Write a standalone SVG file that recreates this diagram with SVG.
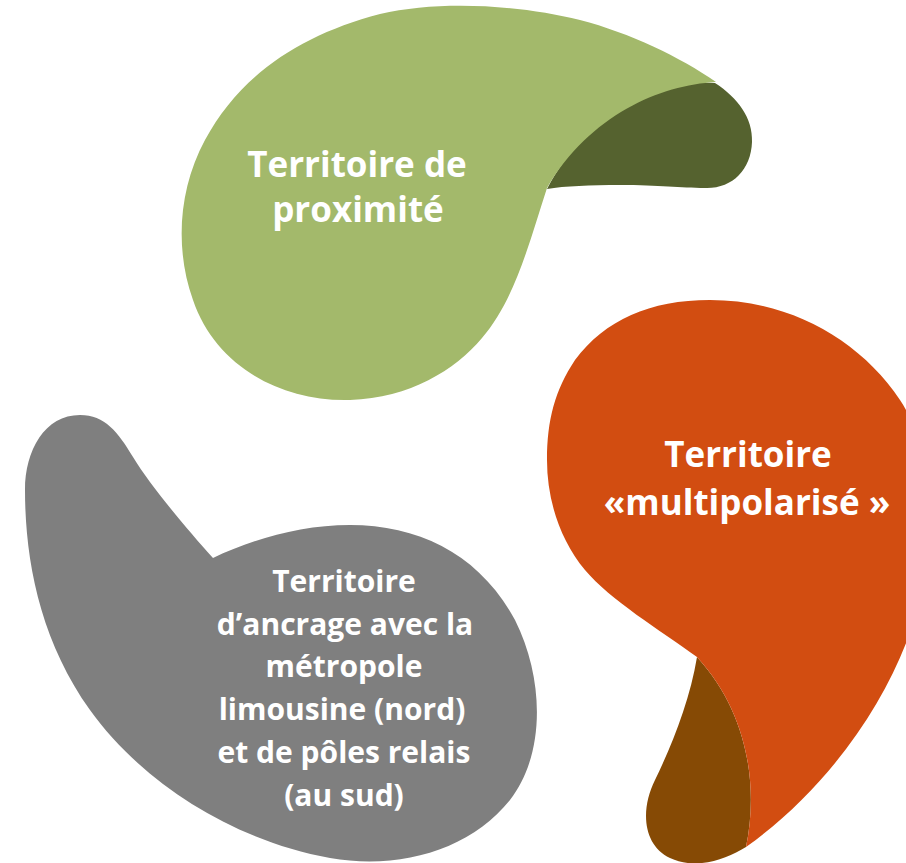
<svg xmlns="http://www.w3.org/2000/svg" width="906" height="863" viewBox="0 0 906 863">
<style>
.lbl{font-family:"Open Sans","Liberation Sans",sans-serif;font-weight:bold;fill:#FFFFFF;text-anchor:middle}
.big{font-size:35px}
.small{font-size:30px}
</style>
<rect width="906" height="863" fill="#FFFFFF"/>
<g id="node-proximite">
<path d="M715,83 C738,98 753,118 752,142 C751,170 732,189 705,188 C680,188 660,185 620,185 C590,185 565,186 547,189 C590,110 650,80 715,83 Z" fill="#55622F"/>
<path d="M547,188 C530,240 515,300 482,338 C455,370 410,398 350,400 C280,402 215,365 193,300 C175,250 178,190 205,140 C240,75 300,35 380,14 C440,0 520,5 580,20 C630,33 680,57 716,82 C660,85 590,115 547,188 Z" fill="#A3B96B"/>
<text class="lbl big" x="357" y="177">Territoire de</text>
<text class="lbl big" x="358" y="222">proximité</text>
</g>
<g id="node-multipolarise">
<path d="M697,657 C690,700 672,745 655,780 C640,810 643,845 670,858 C695,870 725,860 746,847 C758,790 750,715 697,657 Z" fill="#864A05"/>
<path d="M697,657 C660,630 610,600 585,570 C560,540 547,500 547,460 C547,420 555,390 575,360 C605,320 650,300 710,300 C790,300 860,340 900,400 C930,445 940,530 920,600 C900,680 840,780 746,847 C758,790 750,715 697,657 Z" fill="#D24D11"/>
<text class="lbl big" x="748" y="467">Territoire</text>
<text class="lbl big" x="747" y="515">«multipolarisé »</text>
</g>
<g id="node-ancrage">
<path d="M213,558 C185,527 150,485 133,457 C118,432 105,415 80,415 C45,415 25,450 25,490 C25,560 40,640 90,710 C140,780 230,840 330,858 C400,870 470,850 510,800 C545,755 545,680 515,620 C480,555 420,525 350,525 C300,525 250,540 213,558 Z" fill="#7F7F7F"/>
<text class="lbl small" x="344" y="592">Territoire</text>
<text class="lbl small" x="345" y="635">d’ancrage avec la</text>
<text class="lbl small" x="344" y="677">métropole</text>
<text class="lbl small" x="342" y="720">limousine (nord)</text>
<text class="lbl small" x="344" y="763">et de pôles relais</text>
<text class="lbl small" x="344" y="806">(au sud)</text>
</g>
<g id="connectors"></g>
</svg>
